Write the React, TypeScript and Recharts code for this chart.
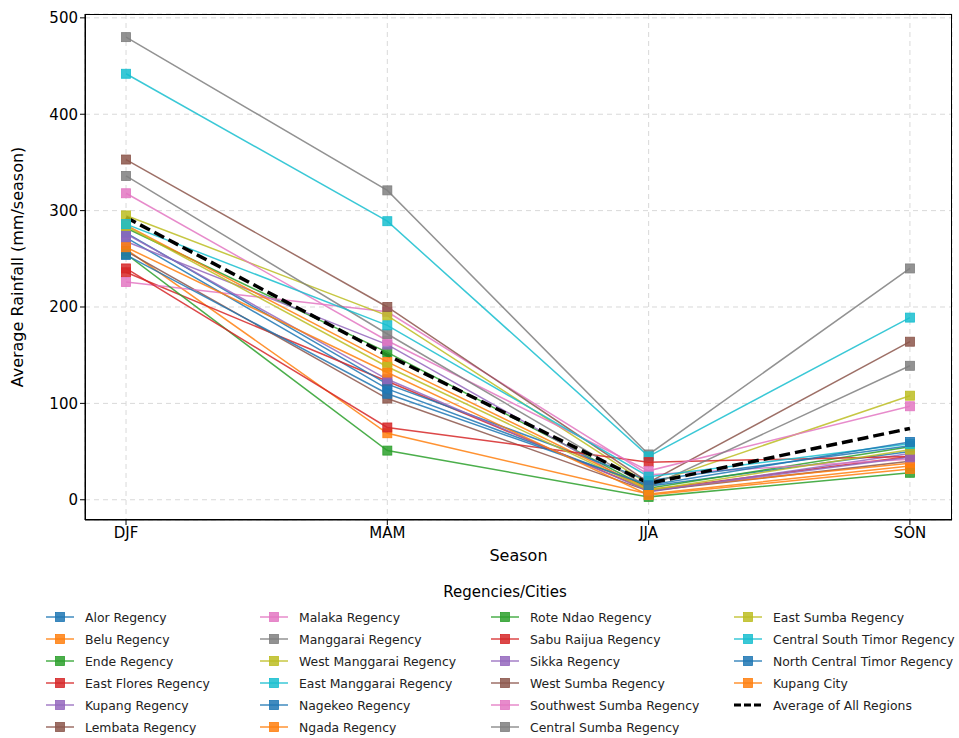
import { LineChart, Line, XAxis, YAxis, CartesianGrid, Label } from 'recharts';

const seasons = ['DJF', 'MAM', 'JJA', 'SON'];

const regions = [
  'Alor Regency', 'Belu Regency', 'Ende Regency', 'East Flores Regency', 'Kupang Regency', 'Lembata Regency',
  'Malaka Regency', 'Manggarai Regency', 'West Manggarai Regency', 'East Manggarai Regency', 'Nagekeo Regency', 'Ngada Regency',
  'Rote Ndao Regency', 'Sabu Raijua Regency', 'Sikka Regency', 'West Sumba Regency', 'Southwest Sumba Regency', 'Central Sumba Regency',
  'East Sumba Regency', 'Central South Timor Regency', 'North Central Timor Regency', 'Kupang City',
];

// matplotlib tab10 cycle
const palette = ['#1f77b4', '#ff7f0e', '#2ca02c', '#d62728', '#9467bd', '#8c564b', '#e377c2', '#7f7f7f', '#bcbd22', '#17becf'];

// seasonal rainfall per region (same order as regions)
const djf = [272, 260, 282, 236, 268, 258, 226, 480, 295, 442, 277, 285, 255, 240, 276, 353, 318, 336, 284, 286, 254, 262];
const mam = [115, 69, 153, 123, 161, 105, 195, 321, 191, 289, 120, 143, 51, 75, 125, 200, 165, 172, 138, 181, 110, 132];
const jja = [14, 6, 12, 10, 8, 9, 26, 47, 16, 45, 20, 11, 3, 39, 9, 18, 30, 13, 10, 24, 15, 5];
const son = [50, 35, 55, 45, 48, 40, 42, 240, 108, 189, 56, 38, 28, 45, 44, 164, 97, 139, 52, 58, 60, 32];
const average = [293, 150, 17, 74];

const yTicks = [0, 100, 200, 300, 400, 500];

const bySeason = [djf, mam, jja, son];
const data = seasons.map((s, i) => {
  const row: Record<string, number | string> = { x: i, season: s, avg: average[i] };
  regions.forEach((r, j) => { row[r] = bySeason[i][j]; });
  return row;
});

const font = '"DejaVu Sans", sans-serif';

function SquareDot(color: string) {
  return (props: any) => {
    const { cx, cy, index } = props;
    if (cx == null || cy == null) return <g key={index} />;
    return (
      <rect key={index} x={cx - 4.5} y={cy - 4.5} width={9} height={9}
        fill={color} fillOpacity={0.85} stroke={color} strokeWidth={0.8} />
    );
  };
}

function LegendIcon({ color, dashed }: { color: string; dashed?: boolean }) {
  return (
    <svg width={32} height={12} style={{ marginRight: 9, flexShrink: 0 }}>
      {dashed ? (
        <line x1={2} y1={6} x2={30} y2={6} stroke="#000" strokeWidth={3} strokeDasharray="7 3" />
      ) : (
        <>
          <line x1={2} y1={6} x2={30} y2={6} stroke={color} strokeWidth={1.5} strokeOpacity={0.85} />
          <rect x={11.5} y={1.5} width={9} height={9} fill={color} fillOpacity={0.85} stroke={color} strokeWidth={0.8} />
        </>
      )}
    </svg>
  );
}

const legendCols = [
  regions.slice(0, 6).map((r, i) => ({ name: r, color: palette[i % 10] })),
  regions.slice(6, 12).map((r, i) => ({ name: r, color: palette[(i + 6) % 10] })),
  regions.slice(12, 18).map((r, i) => ({ name: r, color: palette[(i + 12) % 10] })),
  [
    ...regions.slice(18).map((r, i) => ({ name: r, color: palette[(i + 18) % 10] })),
    { name: 'Average of All Regions', color: '#000', dashed: true },
  ],
];
const colLeft = [44, 258, 489, 732];

export default function App() {
  return (
    <div style={{ position: 'absolute', left: 0, top: 0, width: 959, height: 738, background: '#fff', fontFamily: font }}>
      <LineChart width={959} height={738} data={data} margin={{ top: 14, right: 7, left: 25, bottom: 178 }}>
        <CartesianGrid stroke="#d9d9d9" strokeDasharray="5 4" />
        <XAxis
          dataKey="x" type="number" domain={[-0.157, 3.161]} ticks={[0, 1, 2, 3]}
          tickFormatter={(v) => seasons[v] ?? ''} height={40}
          tick={{ fontSize: 15, fill: '#000', fontFamily: font }} tickLine={{ stroke: '#000' }} tickSize={5}
          axisLine={{ stroke: '#000' }} allowDataOverflow
        >
          <Label value="Season" position="insideBottom" offset={-1} style={{ fontSize: 16, fill: '#000', fontFamily: font }} />
        </XAxis>
        <YAxis
          type="number" domain={[-21, 504]} ticks={yTicks} width={60} allowDataOverflow
          tick={{ fontSize: 15, fill: '#000', fontFamily: font }} tickLine={{ stroke: '#000' }} tickSize={5}
          axisLine={{ stroke: '#000' }}
        >
          <Label value="Average Rainfall (mm/season)" angle={-90} position="insideLeft" offset={-8}
            style={{ fontSize: 16, fill: '#000', fontFamily: font, textAnchor: 'middle' }} />
        </YAxis>
        {regions.map((r, i) => (
          <Line key={r} dataKey={r} stroke={palette[i % 10]} strokeWidth={1.5} strokeOpacity={0.85}
            dot={SquareDot(palette[i % 10])} activeDot={false} isAnimationActive={false} type="linear" />
        ))}
        <Line dataKey="avg" stroke="#000" strokeWidth={3.5} strokeDasharray="11 5" dot={false}
          activeDot={false} isAnimationActive={false} type="linear" />
      </LineChart>
      {/* frame on top/right like matplotlib spines */}
      <div style={{ position: 'absolute', left: 85, top: 14, width: 867, height: 506, border: '1px solid #000', boxSizing: 'border-box', pointerEvents: 'none' }} />
      <div style={{ position: 'absolute', top: 583, left: 0, width: 1010, textAlign: 'center', fontSize: 15, color: '#000' }}>
        Regencies/Cities
      </div>
      {legendCols.map((col, c) => (
        <div key={c} style={{ position: 'absolute', left: colLeft[c], top: 606 }}>
          {col.map((it: any) => (
            <div key={it.name} style={{ display: 'flex', alignItems: 'center', height: 22, fontSize: 12.4, color: '#222', whiteSpace: 'nowrap' }}>
              <LegendIcon color={it.color} dashed={it.dashed} />
              <span>{it.name}</span>
            </div>
          ))}
        </div>
      ))}
    </div>
  );
}
